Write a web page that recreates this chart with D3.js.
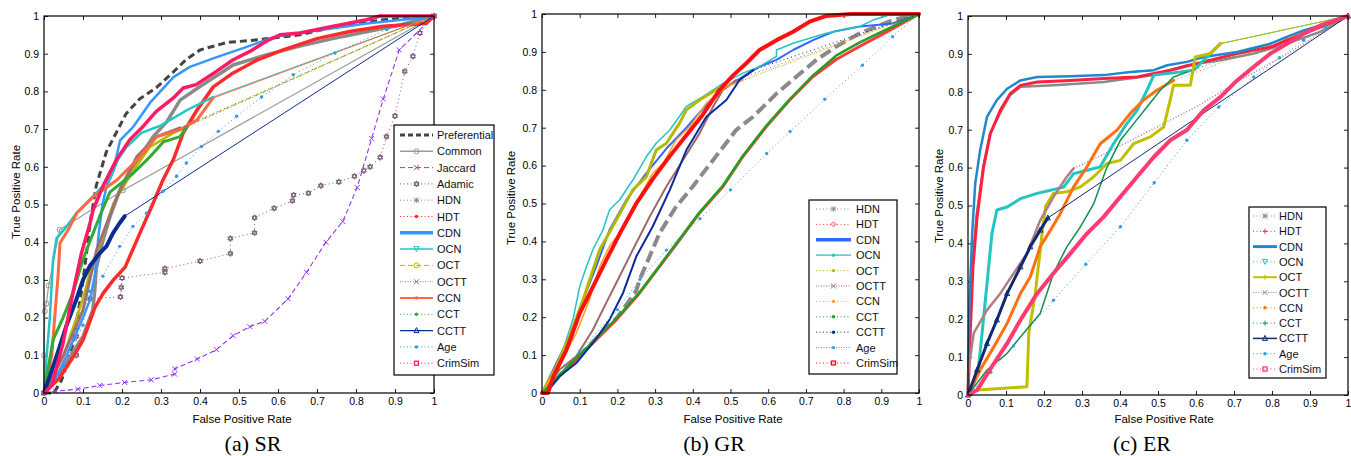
<!DOCTYPE html>
<meta charset="utf-8">
<html>
<head>
<style>
  html, body { margin: 0; padding: 0; background: #fff; }
  svg { display: block; font-family: "Liberation Sans", Arial, sans-serif; }
  .caption { font-family: "Liberation Serif", "Times New Roman", serif; font-size: 22px; }
  .title { font-size: 11.5px; }
  .legend text { font-size: 11px; }
</style>
</head>
<body>
<svg width="1351" height="456"></svg>
<script src="https://cdn.jsdelivr.net/npm/d3@7"></script>
<script>
// ---- ticks ----
var TICKS = [0, 0.1, 0.2, 0.3, 0.4, 0.5, 0.6, 0.7, 0.8, 0.9, 1];
var TICK_LABELS = ['0', '0.1', '0.2', '0.3', '0.4', '0.5', '0.6', '0.7', '0.8', '0.9', '1'];

// ---- (a) SR : [false positive rate, true positive rate] ----
var SR_PREF = [[0,0],[0.025,0],[0.045,0.034],[0.06,0.08],[0.075,0.132],[0.088,0.216],[0.099,0.29],[0.109,0.37],[0.118,0.45],[0.134,0.55],[0.16,0.64],[0.185,0.69],[0.21,0.74],[0.245,0.78],[0.288,0.81],[0.33,0.85],[0.365,0.885],[0.4,0.91],[0.47,0.93],[0.53,0.935],[0.656,0.95],[0.74,0.97],[0.87,0.99],[1,1]];
var SR_COMMON = [[0,0],[0,0.1],[0.002,0.217],[0.006,0.237],[0.012,0.285],[0.04,0.433],[0.203,0.538],[1,1]];
var SR_JACC = [[0,0],[0.03,0.005],[0.087,0.01],[0.143,0.02],[0.207,0.028],[0.275,0.035],[0.335,0.05],[0.335,0.064],[0.393,0.09],[0.442,0.115],[0.485,0.152],[0.528,0.176],[0.566,0.19],[0.626,0.25],[0.673,0.32],[0.723,0.4],[0.766,0.455],[0.803,0.545],[0.84,0.675],[0.87,0.78],[0.911,0.91],[1,1]];
var SR_ADAM = [[0,0],[0.04,0.05],[0.083,0.1],[0.083,0.15],[0.118,0.25],[0.196,0.255],[0.198,0.28],[0.2,0.305],[0.31,0.32],[0.31,0.33],[0.4,0.35],[0.478,0.37],[0.478,0.41],[0.54,0.425],[0.54,0.465],[0.59,0.49],[0.637,0.51],[0.64,0.525],[0.678,0.53],[0.71,0.55],[0.756,0.56],[0.796,0.575],[0.82,0.59],[0.836,0.6],[0.862,0.625],[0.878,0.68],[0.9,0.735],[0.925,0.853],[0.946,0.893],[0.964,0.955],[1,1]];
var SR_HDN = [[0,0],[0.05,0.07],[0.1,0.15],[0.125,0.22],[0.13,0.27],[0.134,0.33],[0.15,0.4],[0.17,0.47],[0.195,0.54],[0.22,0.59],[0.246,0.627],[0.28,0.68],[0.315,0.72],[0.349,0.777],[0.4,0.813],[0.485,0.87],[0.57,0.897],[0.656,0.92],[0.74,0.94],[0.827,0.958],[0.913,0.976],[1,1]];
var SR_HDT = [[0,0],[0.04,0.04],[0.075,0.096],[0.1,0.14],[0.131,0.228],[0.152,0.265],[0.178,0.3],[0.208,0.334],[0.246,0.424],[0.28,0.504],[0.305,0.565],[0.332,0.62],[0.357,0.69],[0.392,0.75],[0.434,0.812],[0.485,0.849],[0.546,0.883],[0.613,0.91],[0.7,0.94],[0.784,0.959],[0.87,0.973],[0.98,0.98],[1,1]];
var SR_CDN = [[0,0],[0.03,0.04],[0.057,0.097],[0.1,0.2],[0.118,0.247],[0.131,0.318],[0.14,0.42],[0.15,0.5],[0.16,0.546],[0.178,0.59],[0.195,0.67],[0.229,0.706],[0.272,0.77],[0.332,0.838],[0.374,0.865],[0.443,0.891],[0.52,0.918],[0.588,0.944],[0.656,0.955],[0.827,0.98],[0.955,0.994],[1,1]];
var SR_OCN = [[0,0],[0.006,0.09],[0.015,0.2],[0.023,0.35],[0.032,0.41],[0.053,0.435],[0.083,0.477],[0.117,0.513],[0.143,0.54],[0.17,0.57],[0.19,0.62],[0.212,0.653],[0.25,0.69],[0.3,0.71],[0.366,0.75],[0.433,0.785],[1,1]];
var SR_OCT = [[0,0],[0.05,0.1],[0.1,0.25],[0.12,0.33],[0.144,0.397],[0.178,0.503],[0.229,0.59],[0.272,0.653],[0.332,0.69],[0.37,0.71],[1,1]];
var SR_OCTT = [[0,0],[0.05,0.1],[0.1,0.22],[0.135,0.38],[0.187,0.52],[0.238,0.627],[0.289,0.68],[0.349,0.703],[1,1]];
var SR_CCN = [[0,0],[0.01,0.05],[0.02,0.1],[0.027,0.195],[0.036,0.31],[0.041,0.398],[0.062,0.433],[0.084,0.477],[0.126,0.52],[0.187,0.565],[0.246,0.626],[0.289,0.68],[0.349,0.698],[0.392,0.724],[0.433,0.782],[1,1]];
var SR_CCT = [[0,0],[0.023,0.14],[0.049,0.2],[0.074,0.265],[0.1,0.354],[0.126,0.424],[0.143,0.469],[0.169,0.533],[0.229,0.583],[0.272,0.627],[0.306,0.666],[0.349,0.68],[0.366,0.706],[1,1]];
var SR_CCTT = [[0,0],[0.006,0.018],[0.032,0.097],[0.057,0.177],[0.083,0.248],[0.1,0.3],[0.117,0.336],[0.143,0.371],[0.16,0.389],[0.177,0.424],[0.194,0.451],[0.207,0.469],[1,1]];
var SR_AGE = [[0,0],[0.05,0.07],[0.1,0.18],[0.117,0.27],[0.151,0.31],[0.194,0.389],[0.228,0.442],[0.263,0.477],[0.305,0.535],[0.34,0.575],[0.365,0.61],[0.404,0.654],[0.447,0.694],[0.494,0.734],[0.558,0.785],[0.639,0.844],[0.746,0.902],[0.879,0.964],[1,1]];
var SR_CRIM = [[0,0],[0.02,0.02],[0.049,0.133],[0.074,0.265],[0.096,0.371],[0.118,0.45],[0.126,0.486],[0.151,0.548],[0.186,0.619],[0.22,0.672],[0.254,0.707],[0.288,0.747],[0.331,0.782],[0.357,0.809],[0.39,0.818],[0.442,0.853],[0.485,0.884],[0.528,0.906],[0.57,0.933],[0.605,0.95],[0.656,0.955],[0.742,0.973],[0.827,0.99],[0.861,1],[1,1]];

// ---- (b) GR ----
var GR_HDN = [[0,0],[0.1,0.1],[0.2,0.2],[0.25,0.27],[0.259,0.299],[0.312,0.422],[0.356,0.492],[0.4,0.545],[0.454,0.615],[0.515,0.694],[0.56,0.729],[0.622,0.79],[0.675,0.835],[0.728,0.879],[0.78,0.914],[0.843,0.949],[0.93,0.984],[1,1]];
var GR_HDT = [[0,0],[0.073,0.07],[0.135,0.132],[0.197,0.193],[0.259,0.264],[0.312,0.334],[0.365,0.404],[0.418,0.475],[0.48,0.545],[0.533,0.624],[0.595,0.703],[0.657,0.773],[0.719,0.835],[0.78,0.88],[0.843,0.915],[0.896,0.943],[0.949,0.972],[1,1]];
var GR_CDN = [[0,0],[0.038,0.079],[0.073,0.149],[0.109,0.246],[0.144,0.334],[0.179,0.43],[0.224,0.51],[0.277,0.58],[0.33,0.645],[0.383,0.7],[0.427,0.75],[0.48,0.8],[0.533,0.835],[0.577,0.861],[0.622,0.879],[0.666,0.905],[0.719,0.931],[0.772,0.953],[0.843,0.967],[0.93,0.975],[1,1]];
var GR_OCN = [[0,0],[0.047,0.088],[0.082,0.193],[0.1,0.281],[0.118,0.334],[0.135,0.378],[0.162,0.431],[0.179,0.483],[0.206,0.51],[0.241,0.562],[0.277,0.624],[0.303,0.659],[0.339,0.694],[0.383,0.756],[0.427,0.782],[0.48,0.817],[0.533,0.844],[0.577,0.861],[0.622,0.888],[0.622,0.905],[0.666,0.923],[0.754,0.949],[0.843,0.967],[0.878,0.984],[0.93,1],[1,1]];
var GR_OCT = [[0,0],[0.038,0.07],[0.073,0.149],[0.109,0.246],[0.153,0.378],[0.188,0.44],[0.241,0.536],[0.277,0.571],[0.303,0.641],[0.33,0.659],[0.365,0.712],[0.383,0.747],[0.418,0.773],[0.462,0.8],[0.489,0.808],[1,1]];
var GR_OCTT = [[0,0],[0.047,0.062],[0.091,0.097],[0.135,0.167],[0.17,0.237],[0.206,0.308],[0.241,0.378],[0.286,0.466],[0.33,0.545],[0.374,0.615],[0.418,0.685],[0.454,0.756],[0.48,0.8],[0.515,0.826],[1,1]];
var GR_CCN = [[0,0],[0.047,0.079],[0.091,0.158],[0.126,0.246],[0.153,0.334],[0.179,0.387],[0.206,0.422],[0.233,0.475],[0.259,0.518],[0.294,0.58],[0.321,0.606],[0.356,0.668],[0.392,0.703],[0.436,0.765],[0.489,0.808],[0.533,0.826],[1,1]];
var GR_CCT = [[0,0],[0.073,0.075],[0.135,0.135],[0.197,0.196],[0.259,0.266],[0.312,0.336],[0.365,0.406],[0.418,0.477],[0.48,0.547],[0.533,0.626],[0.595,0.705],[0.657,0.775],[0.719,0.838],[0.78,0.89],[0.843,0.925],[0.896,0.951],[0.949,0.976],[1,1]];
var GR_CCTT = [[0,0],[0.011,0],[0.047,0.044],[0.091,0.079],[0.135,0.132],[0.179,0.193],[0.215,0.264],[0.25,0.36],[0.294,0.44],[0.339,0.536],[0.383,0.641],[0.436,0.729],[0.489,0.773],[0.524,0.826],[0.56,0.852],[1,1]];
var GR_AGE = [[0,0],[0.1,0.11],[0.2,0.22],[0.26,0.3],[0.33,0.377],[0.419,0.46],[0.5,0.536],[0.596,0.632],[0.658,0.69],[0.75,0.775],[0.85,0.865],[0.93,0.94],[1,1]];
var GR_CRIM = [[0,0],[0.016,0],[0.03,0.044],[0.065,0.114],[0.1,0.21],[0.135,0.28],[0.17,0.35],[0.206,0.42],[0.25,0.5],[0.294,0.565],[0.339,0.625],[0.383,0.68],[0.427,0.735],[0.471,0.8],[0.507,0.838],[0.542,0.87],[0.577,0.905],[0.622,0.931],[0.666,0.953],[0.71,0.98],[0.754,0.995],[0.82,1],[1,1]];

// ---- (c) ER ----
var ER_HDN = [[0,0],[0.005,0.2],[0.012,0.35],[0.022,0.47],[0.04,0.6],[0.058,0.69],[0.085,0.745],[0.11,0.79],[0.138,0.813],[0.225,0.817],[0.357,0.826],[0.489,0.844],[0.576,0.87],[0.664,0.883],[0.752,0.901],[0.839,0.927],[0.927,0.958],[1,1]];
var ER_HDT = [[0,0],[0.006,0.163],[0.013,0.338],[0.024,0.47],[0.041,0.602],[0.059,0.69],[0.085,0.751],[0.111,0.795],[0.138,0.817],[0.182,0.826],[0.269,0.83],[0.357,0.835],[0.445,0.839],[0.532,0.857],[0.62,0.879],[0.708,0.901],[0.796,0.918],[0.839,0.936],[0.927,0.971],[1,1]];
var ER_CDN = [[0,0],[0.004,0.25],[0.011,0.426],[0.019,0.558],[0.032,0.646],[0.05,0.734],[0.076,0.778],[0.103,0.808],[0.138,0.83],[0.182,0.839],[0.269,0.841],[0.357,0.844],[0.427,0.852],[0.489,0.857],[0.524,0.87],[0.576,0.879],[0.62,0.892],[0.708,0.905],[0.796,0.927],[0.839,0.945],[0.883,0.962],[0.927,0.975],[1,1]];
var ER_OCN = [[0,0],[0.015,0.03],[0.028,0.075],[0.037,0.163],[0.05,0.294],[0.063,0.426],[0.076,0.488],[0.103,0.496],[0.138,0.518],[0.182,0.532],[0.225,0.542],[0.252,0.549],[0.278,0.584],[0.313,0.593],[0.348,0.602],[0.383,0.663],[0.418,0.716],[0.445,0.751],[0.471,0.804],[0.489,0.844],[0.559,0.852],[0.594,0.857],[0.629,0.892],[0.664,0.927],[1,1]];
var ER_OCT = [[0,0],[0.024,0.013],[0.094,0.018],[0.155,0.022],[0.16,0.163],[0.177,0.268],[0.195,0.426],[0.204,0.497],[0.225,0.532],[0.26,0.536],[0.296,0.549],[0.331,0.576],[0.366,0.611],[0.401,0.619],[0.436,0.663],[0.48,0.681],[0.515,0.707],[0.532,0.778],[0.541,0.817],[0.585,0.817],[0.598,0.892],[0.638,0.901],[0.664,0.927],[1,1]];
var ER_OCTT = [[0,0],[0,0.057],[0.015,0.163],[0.05,0.224],[0.085,0.268],[0.12,0.321],[0.155,0.373],[0.19,0.461],[0.225,0.523],[0.26,0.576],[0.278,0.598],[0.347,0.63],[0.6,0.76],[0.716,0.83],[0.84,0.9],[1,1]];
var ER_CCN = [[0,0],[0.032,0.066],[0.068,0.127],[0.103,0.189],[0.138,0.268],[0.164,0.312],[0.19,0.391],[0.217,0.435],[0.243,0.479],[0.278,0.549],[0.313,0.602],[0.348,0.663],[0.392,0.699],[0.427,0.743],[0.462,0.778],[0.497,0.804],[0.541,0.83],[1,1]];
var ER_CCT = [[0,0],[0.05,0.066],[0.103,0.11],[0.146,0.163],[0.19,0.215],[0.225,0.321],[0.26,0.391],[0.296,0.444],[0.331,0.505],[0.366,0.602],[0.401,0.672],[0.436,0.716],[0.471,0.76],[0.506,0.804],[0.541,0.839],[0.576,0.852],[1,1]];
var ER_CCTT = [[0,0],[0.024,0.066],[0.05,0.136],[0.076,0.198],[0.103,0.268],[0.138,0.338],[0.164,0.391],[0.19,0.435],[0.21,0.467],[1,1]];
var ER_AGE = [[0,0],[0.06,0.06],[0.12,0.13],[0.225,0.25],[0.31,0.345],[0.401,0.444],[0.49,0.56],[0.576,0.672],[0.66,0.76],[0.752,0.839],[0.82,0.89],[0.883,0.936],[0.94,0.97],[1,1]];
var ER_CRIM = [[0,0],[0.024,0.013],[0.068,0.083],[0.103,0.136],[0.138,0.198],[0.182,0.268],[0.225,0.321],[0.269,0.373],[0.313,0.426],[0.357,0.47],[0.401,0.523],[0.445,0.576],[0.489,0.628],[0.532,0.672],[0.576,0.699],[0.62,0.751],[0.664,0.786],[0.708,0.83],[0.752,0.866],[0.796,0.901],[0.839,0.927],[0.883,0.953],[0.927,0.975],[1,1]];

var SR_SERIES = [['Preferential', SR_PREF], ['Common', SR_COMMON], ['Jaccard', SR_JACC], ['Adamic', SR_ADAM],
  ['HDN', SR_HDN], ['HDT', SR_HDT], ['CDN', SR_CDN], ['OCN', SR_OCN], ['OCT', SR_OCT], ['OCTT', SR_OCTT],
  ['CCN', SR_CCN], ['CCT', SR_CCT], ['CCTT', SR_CCTT], ['Age', SR_AGE], ['CrimSim', SR_CRIM]];
var GR_SERIES = [['HDN', GR_HDN], ['HDT', GR_HDT], ['CDN', GR_CDN], ['OCN', GR_OCN], ['OCT', GR_OCT], ['OCTT', GR_OCTT],
  ['CCN', GR_CCN], ['CCT', GR_CCT], ['CCTT', GR_CCTT], ['Age', GR_AGE], ['CrimSim', GR_CRIM]];
var ER_SERIES = [['HDN', ER_HDN], ['HDT', ER_HDT], ['CDN', ER_CDN], ['OCN', ER_OCN], ['OCT', ER_OCT], ['OCTT', ER_OCTT],
  ['CCN', ER_CCN], ['CCT', ER_CCT], ['CCTT', ER_CCTT], ['Age', ER_AGE], ['CrimSim', ER_CRIM]];

// styles: c colour, w plot width, d plot dash, m marker, pm markers on plot,
// lw/ld legend width/dash, tail = trailing segments drawn thin (td dash, tw width)
var SR_STYLE = {
  Preferential: {c: '#444', w: 3, d: '7,4', lw: 3, ld: '5,3'},
  Common: {c: '#999', w: 1.2, m: 'o', pm: true, lw: 1.5},
  Jaccard: {c: '#9933ee', w: 1.1, d: '5,3', m: 'x', pm: true, ld: '5,3'},
  Adamic: {c: '#7a5a78', w: 1, d: '1,3', m: 'hex', pm: true, ld: '1,2.5'},
  HDN: {c: '#8a8a8a', w: 3.5, m: '*', ld: '1,2.5'},
  HDT: {c: '#ff2a2a', w: 3.5, m: '.', ld: '1,2.5'},
  CDN: {c: '#3399ff', w: 2.5, lw: 3.5},
  OCN: {c: '#22c4c4', w: 2.5, m: 'v', lw: 1.5, tail: 1},
  OCT: {c: '#b8b800', w: 2.5, m: 'o', ld: '5,3', tail: 1, td: '5,3'},
  OCTT: {c: '#a07070', w: 3, m: 'x', ld: '1,1.5', tail: 1, td: '1,3'},
  CCN: {c: '#ff6a40', w: 3, m: '.', lw: 2, tail: 1},
  CCT: {c: '#33aa33', w: 3, m: '.', ld: '1,2.5', tail: 1, td: '1,3'},
  CCTT: {c: '#0a2d8f', w: 4, m: '^', lw: 1.3, tail: 1},
  Age: {c: '#3399ee', w: 1, d: '1,3', m: '.', pm: true, ld: '1,2.5'},
  CrimSim: {c: '#ff1a66', w: 3.5, m: 's', ld: '1,2.5'}
};
var GR_STYLE = {
  HDN: {c: '#8a8a8a', w: 4, d: '12,5', m: '*', ld: '1,2.5'},
  HDT: {c: '#ff3a3a', w: 3, m: 'd', ld: '1,2.5'},
  CDN: {c: '#3366ff', w: 2, lw: 3.5},
  OCN: {c: '#22c4c4', w: 1.5, m: '.', lw: 1.2},
  OCT: {c: '#b5b800', w: 3, m: '.', ld: '1,2.5', tail: 1, td: '1,3'},
  OCTT: {c: '#a06868', w: 2, m: 'x', ld: '1,1.5', tail: 1, td: '1,3'},
  CCN: {c: '#ffa020', w: 1.5, m: '.', ld: '1,2.5', tail: 1, td: '1,3'},
  CCT: {c: '#22a022', w: 2.5, m: '.', ld: '1,2.5'},
  CCTT: {c: '#0a2aa0', w: 2, m: '.', ld: '1,2.5', tail: 1, td: '1,3'},
  Age: {c: '#3aa0e0', w: 1, d: '1,3', m: '.', pm: true, ld: '1,1.5'},
  CrimSim: {c: '#ff1010', w: 4, m: 's', ld: '1,2.5'}
};
var ER_STYLE = {
  HDN: {c: '#8a8a8a', w: 2.5, m: '*', ld: '1,2.5'},
  HDT: {c: '#ff2040', w: 3, m: '+', ld: '1,2.5'},
  CDN: {c: '#1f88d0', w: 2.5, lw: 3},
  OCN: {c: '#22c4c4', w: 3, m: 'v', ld: '1,2.5', tail: 1},
  OCT: {c: '#c0c000', w: 3, m: '+', lw: 2, tail: 1},
  OCTT: {c: '#b08080', w: 2.5, m: 'x', ld: '1,1.5', tail: 5, td: '1,2', tw: 1.5},
  CCN: {c: '#ff7010', w: 3, m: '.', ld: '1,2.5', tail: 1, td: '1,3'},
  CCT: {c: '#109050', w: 1.5, m: '+', ld: '1,2.5', tail: 1, td: '1,3'},
  CCTT: {c: '#102a70', w: 3, m: '^', pm: true, lw: 1.5, tail: 1},
  Age: {c: '#30a0e0', w: 1, d: '1,3', m: '.', pm: true, ld: '1,2.5'},
  CrimSim: {c: '#ff3a70', w: 4, m: 's', ld: '1,2.5'}
};

var panels = [
  {series: SR_SERIES, style: SR_STYLE, x0: 44, x1: 434, yB: 393, yT: 16,
   leg: {x: 394, y: 125, w: 100, h: 250, first: 135, step: 16.3, l0: 400, l1: 433, tx: 437},
   ytitle: [16, 192], xtitle: 242, cap: [253, '(a) SR']},
  {series: GR_SERIES, style: GR_STYLE, x0: 542, x1: 919, yB: 393, yT: 14,
   leg: {x: 809, y: 200, w: 88, h: 174, first: 209, step: 15.4, l0: 816, l1: 851, tx: 856},
   ytitle: [511, 198], xtitle: 733, cap: [714, '(b) GR']},
  {series: ER_SERIES, style: ER_STYLE, x0: 968, x1: 1348, yB: 395, yT: 16,
   leg: {x: 1249, y: 207, w: 77, h: 171, first: 216, step: 15.3, l0: 1253, l1: 1277, tx: 1279},
   ytitle: [939, 196], xtitle: 1164, cap: [1142, '(c) ER']}
];

var svg = d3.select('svg');
var fmt = function (d) { return TICK_LABELS[TICKS.indexOf(d)]; };

function marker(g, type, x, y, c) {
    var s = 2.5;
    if (!type) return;
    if (type === 'o') {
        g.append('circle').attr('cx', x).attr('cy', y).attr('r', s).attr('fill', 'none').attr('stroke', c);
    } else if (type === '.') {
        g.append('circle').attr('cx', x).attr('cy', y).attr('r', 1.7).attr('fill', c);
    } else if (type === 's') {
        g.append('rect').attr('x', x - 2).attr('y', y - 2).attr('width', 4).attr('height', 4)
            .attr('fill', 'none').attr('stroke', c).attr('stroke-width', 1.3);
    } else {
        var p = d3.path();
        if (type === 'x' || type === '*') {
            p.moveTo(x - s, y - s); p.lineTo(x + s, y + s);
            p.moveTo(x - s, y + s); p.lineTo(x + s, y - s);
        }
        if (type === '+' || type === '*') {
            p.moveTo(x - s, y); p.lineTo(x + s, y);
            p.moveTo(x, y - s); p.lineTo(x, y + s);
        }
        if (type === '^') {
            p.moveTo(x, y - s - 0.5); p.lineTo(x + s, y + s - 0.5); p.lineTo(x - s, y + s - 0.5); p.closePath();
        }
        if (type === 'v') {
            p.moveTo(x, y + s); p.lineTo(x + s, y - s); p.lineTo(x - s, y - s); p.closePath();
        }
        if (type === 'd') {
            p.moveTo(x, y - s); p.lineTo(x + s, y); p.lineTo(x, y + s); p.lineTo(x - s, y); p.closePath();
        }
        if (type === 'hex') {
            p.moveTo(x, y - s - 0.5); p.lineTo(x + s, y + s * 0.6); p.lineTo(x - s, y + s * 0.6); p.closePath();
            p.moveTo(x, y + s + 0.5); p.lineTo(x + s, y - s * 0.6); p.lineTo(x - s, y - s * 0.6); p.closePath();
        }
        g.append('path').attr('d', p.toString()).attr('fill', 'none').attr('stroke', c).attr('stroke-width', 1);
    }
}

panels.forEach(function (P) {
    var x = d3.scaleLinear().domain([0, 1]).range([P.x0, P.x1]);
    var y = d3.scaleLinear().domain([0, 1]).range([P.yB, P.yT]);
    var g = svg.append('g');

    // axes, inward ticks on all sides
    var axes = [
        [d3.axisBottom(x).tickFormat(fmt), 'translate(0,' + P.yB + ')'],
        [d3.axisLeft(y).tickFormat(fmt), 'translate(' + P.x0 + ',0)'],
        [d3.axisTop(x).tickFormat(''), 'translate(0,' + P.yT + ')'],
        [d3.axisRight(y).tickFormat(''), 'translate(' + P.x1 + ',0)']
    ];
    axes.forEach(function (a) {
        var ag = g.append('g').attr('transform', a[1])
            .call(a[0].tickValues(TICKS).tickSizeInner(-4).tickSizeOuter(0).tickPadding(5));
        ag.attr('font-family', '"Liberation Sans", Arial, sans-serif').attr('font-size', 10.5);
        ag.select('.domain').remove();
        ag.selectAll('line').attr('stroke', '#222');
    });

    var line = d3.line().x(function (d) { return x(d[0]); }).y(function (d) { return y(d[1]); });

    P.series.forEach(function (s) {
        var st = P.style[s[0]], pts = s[1];
        var n = st.tail || 0;
        var body = n ? pts.slice(0, pts.length - n) : pts;
        g.append('path').datum(body).attr('d', line)
            .attr('fill', 'none').attr('stroke', st.c).attr('stroke-width', st.w)
            .attr('stroke-dasharray', st.d || null)
            .attr('stroke-linejoin', 'round').attr('stroke-linecap', st.d ? 'butt' : 'round');
        if (n) {
            g.append('path').datum(pts.slice(pts.length - n - 1)).attr('d', line)
                .attr('fill', 'none').attr('stroke', st.c).attr('stroke-width', st.tw || 1)
                .attr('stroke-dasharray', st.td || null);
        }
        if (st.pm) {
            var mg = g.append('g');
            pts.forEach(function (d) { marker(mg, st.m, x(d[0]), y(d[1]), st.c); });
        }
    });

    g.append('rect').attr('x', P.x0).attr('y', P.yT)
        .attr('width', P.x1 - P.x0).attr('height', P.yB - P.yT)
        .attr('fill', 'none').attr('stroke', '#000').attr('stroke-width', 1.2);

    // titles
    g.append('text').attr('class', 'title')
        .attr('transform', 'translate(' + P.ytitle[0] + ',' + P.ytitle[1] + ') rotate(-90)')
        .attr('text-anchor', 'middle').attr('dominant-baseline', 'central')
        .text('True Positive Rate');
    g.append('text').attr('class', 'title')
        .attr('x', P.xtitle).attr('y', 419)
        .attr('text-anchor', 'middle').attr('dominant-baseline', 'central')
        .text('False Positive Rate');
    g.append('text').attr('class', 'caption')
        .attr('x', P.cap[0]).attr('y', 451).attr('text-anchor', 'middle')
        .text(P.cap[1]);

    // legend
    var L = P.leg;
    var lg = g.append('g').attr('class', 'legend');
    lg.append('rect').attr('x', L.x).attr('y', L.y).attr('width', L.w).attr('height', L.h)
        .attr('fill', '#fff').attr('stroke', '#000').attr('stroke-width', 1.2);
    P.series.forEach(function (s, i) {
        var st = P.style[s[0]];
        var yy = L.first + i * L.step;
        lg.append('line').attr('x1', L.l0).attr('x2', L.l1).attr('y1', yy).attr('y2', yy)
            .attr('stroke', st.c).attr('stroke-width', st.lw || 1)
            .attr('stroke-dasharray', st.ld || null);
        marker(lg, st.m, (L.l0 + L.l1) / 2, yy, st.c);
        lg.append('text').attr('x', L.tx).attr('y', yy).attr('dominant-baseline', 'central')
            .attr('fill', '#111').text(s[0]);
    });
});
</script>
</body>
</html>
